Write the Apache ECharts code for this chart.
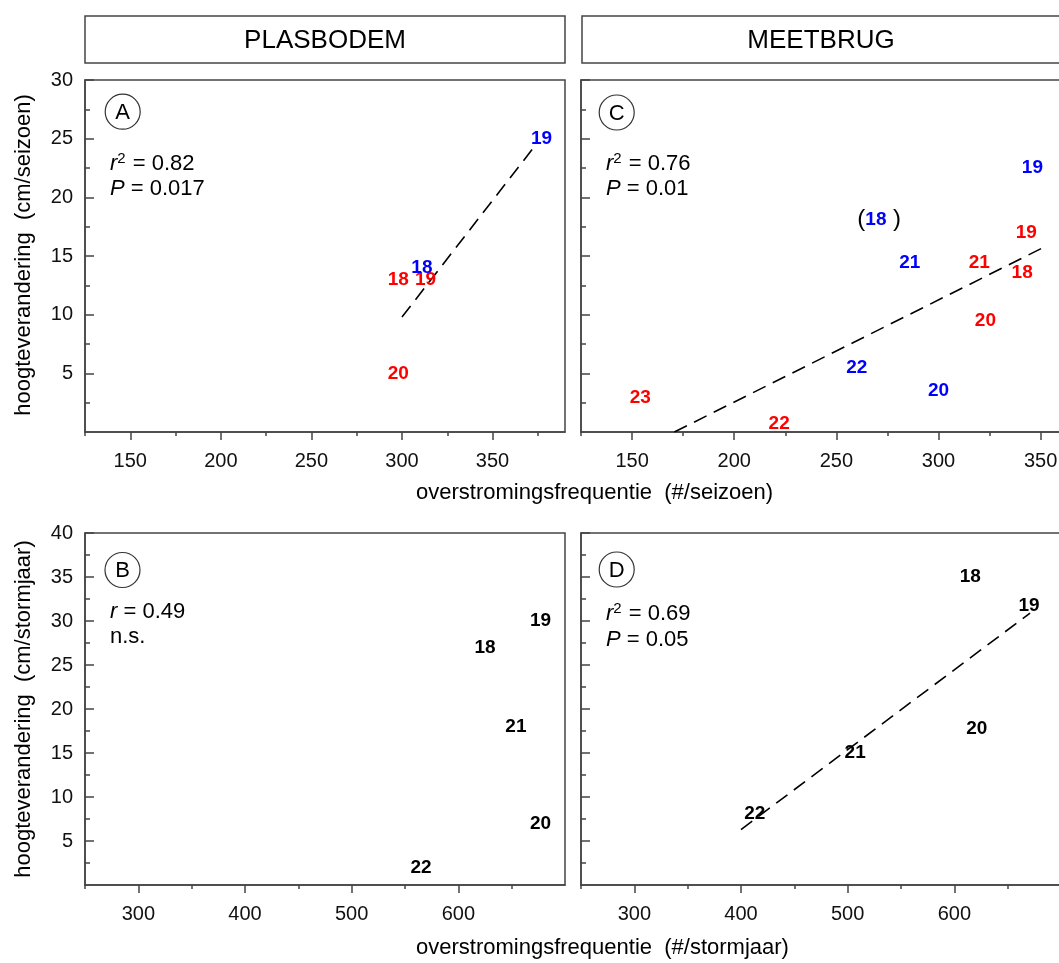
<!DOCTYPE html>
<html><head><meta charset="utf-8">
<script src="https://cdn.jsdelivr.net/npm/echarts@6/dist/echarts.min.js"></script>
<style>html,body{margin:0;padding:0;background:#fff}#c{width:1059px;height:963px}</style>
</head><body><div id="c"></div>
<script>
// ---------- DATA ----------
// Panel A: PLASBODEM, per seizoen
const aRedLbl = ['18', '19', '20'];
const aRedX = [298, 313, 298];
const aRedY = [13, 13, 5];
const aBlueLbl = ['18', '19'];
const aBlueX = [311, 377];
const aBlueY = [14, 25];
const aFitX = [300, 375];
const aFitY = [9.8, 24.7];

// Panel C: MEETBRUG, per seizoen
const cRedLbl = ['19', '21', '18', '20', '23', '22'];
const cRedX = [343, 320, 341, 323, 154, 222];
const cRedY = [17, 14.4, 13.6, 9.5, 2.9, 0.7];
const cBlueLbl = ['(18)', '19', '21', '22', '20'];
const cBlueX = [271, 346, 286, 260, 300];
const cBlueY = [18.1, 22.5, 14.4, 5.5, 3.5];
const cFitX = [170.7, 350.5];
const cFitY = [0, 15.65];

// Panel B: PLASBODEM, per stormjaar
const bLbl = ['19', '18', '21', '20', '22'];
const bX = [677, 625, 654, 677, 565];
const bY = [30, 27, 18, 7, 2];

// Panel D: MEETBRUG, per stormjaar
const dLbl = ['18', '19', '20', '21', '22'];
const dX = [615, 670, 621, 507, 413];
const dY = [35, 31.7, 17.7, 15, 8.1];
const dFitX = [400, 671];
const dFitY = [6.3, 30.9];

// Tick values
const xTicksTop = [150, 200, 250, 300, 350];
const xMinorTop = [125, 175, 225, 275, 325, 375];
const xTicksBottom = [300, 400, 500, 600];
const xMinorBottom = [250, 350, 450, 550, 650];
const yTicksTop = [5, 10, 15, 20, 25, 30];
const yMinorTop = [2.5, 7.5, 12.5, 17.5, 22.5, 27.5];
const yTicksBottom = [5, 10, 15, 20, 25, 30, 35, 40];
const yMinorBottom = [2.5, 7.5, 12.5, 17.5, 22.5, 27.5, 32.5, 37.5];

// ---------- STYLE / BUILD ----------
const FONT = '"Liberation Sans", Arial, sans-serif';
const AX = '#444';
const RED = '#ff0000', BLUE = '#0000ff', BLACK = '#000000';

function pts(xs, ys, ls) { return xs.map((x, i) => [x, ys[i], ls ? ls[i] : '']); }

function xMain(g, min, max, ticks) {
  return {type: 'value', gridIndex: g, position: 'bottom', min, max,
    axisLine: {show: true, onZero: false, lineStyle: {color: AX, width: 1.5}},
    axisTick: {show: true, customValues: ticks, length: 8, lineStyle: {color: AX, width: 1.5}},
    axisLabel: {show: true, customValues: ticks, fontSize: 20, color: '#111', fontFamily: FONT, margin: 19},
    splitLine: {show: false}};
}
function xMinor(g, min, max, ticks) {
  return {type: 'value', gridIndex: g, position: 'bottom', min, max,
    axisLine: {show: false, onZero: false},
    axisTick: {show: true, customValues: ticks, length: 4, lineStyle: {color: AX, width: 1.5}},
    axisLabel: {show: false}, splitLine: {show: false}};
}
function yMain(g, max, ticks, showLabels) {
  return {type: 'value', gridIndex: g, position: 'left', min: 0, max,
    axisLine: {show: true, onZero: false, lineStyle: {color: AX, width: 1.5}},
    axisTick: {show: true, inside: true, customValues: ticks, length: 9, lineStyle: {color: AX, width: 1.5}},
    axisLabel: {show: showLabels, customValues: ticks, fontSize: 20, color: '#111', fontFamily: FONT, margin: 12},
    splitLine: {show: false}};
}
function yMinor(g, max, ticks) {
  return {type: 'value', gridIndex: g, position: 'left', min: 0, max,
    axisLine: {show: false, onZero: false},
    axisTick: {show: true, inside: true, customValues: ticks, length: 5, lineStyle: {color: AX, width: 1.5}},
    axisLabel: {show: false}, splitLine: {show: false}};
}
function labelSeries(xi, yi, data, color) {
  return {type: 'scatter', xAxisIndex: xi, yAxisIndex: yi, data, symbolSize: 1,
    itemStyle: {color: 'rgba(0,0,0,0)', opacity: 1}, z: 5, silent: true,
    label: {show: true, position: 'inside', color, fontWeight: 'bold', fontSize: 19, fontFamily: FONT, opacity: 1,
      formatter: p => {
        const s = p.data[2];
        if (s.charAt(0) === '(') return '{p|(}{b|' + s.slice(1, -1) + '}{p| )}';
        return s;
      },
      rich: {p: {color: BLACK, fontSize: 24, fontFamily: FONT, fontWeight: 'normal'},
             b: {color, fontSize: 19, fontWeight: 'bold', fontFamily: FONT}}}};
}
function fitSeries(xi, yi, data) {
  return {type: 'line', xAxisIndex: xi, yAxisIndex: yi, data, symbol: 'none', z: 3, silent: true,
    lineStyle: {color: BLACK, width: 1.6, type: [14, 8], opacity: 1}};
}

const grids = [
  {left: 85, top: 80, width: 480, height: 352},
  {left: 581, top: 80, width: 480, height: 352},
  {left: 85, top: 533, width: 480, height: 352},
  {left: 581, top: 533, width: 480, height: 352}
].map(g => Object.assign(g, {show: true, borderColor: AX, borderWidth: 1.5, outerBoundsMode: 'none', containLabel: false}));

const xAxes = [
  xMain(0, 125, 390, xTicksTop), xMinor(0, 125, 390, xMinorTop),
  xMain(1, 125, 360, xTicksTop), xMinor(1, 125, 360, xMinorTop),
  xMain(2, 250, 700, xTicksBottom), xMinor(2, 250, 700, xMinorBottom),
  xMain(3, 250, 700, xTicksBottom), xMinor(3, 250, 700, xMinorBottom)
];
const yAxes = [
  yMain(0, 30, yTicksTop, true), yMinor(0, 30, yMinorTop),
  yMain(1, 30, yTicksTop, false), yMinor(1, 30, yMinorTop),
  yMain(2, 40, yTicksBottom, true), yMinor(2, 40, yMinorBottom),
  yMain(3, 40, yTicksBottom, false), yMinor(3, 40, yMinorBottom)
];

const series = [
  fitSeries(0, 0, pts(aFitX, aFitY)),
  labelSeries(0, 0, pts(aRedX, aRedY, aRedLbl), RED),
  labelSeries(0, 0, pts(aBlueX, aBlueY, aBlueLbl), BLUE),
  fitSeries(2, 2, pts(cFitX, cFitY)),
  labelSeries(2, 2, pts(cRedX, cRedY, cRedLbl), RED),
  labelSeries(2, 2, pts(cBlueX, cBlueY, cBlueLbl), BLUE),
  labelSeries(4, 4, pts(bX, bY, bLbl), BLACK),
  fitSeries(6, 6, pts(dFitX, dFitY)),
  labelSeries(6, 6, pts(dX, dY, dLbl), BLACK)
];

const txt = (x, y, text, size, extra) => ({type: 'text', x, y, silent: true,
  style: Object.assign({text, fontSize: size, fontFamily: FONT, fill: '#000', align: 'left', verticalAlign: 'middle'}, extra || {})});
const RICH = {
  i: {fontStyle: 'italic', fontSize: 22, fontFamily: FONT, lineHeight: 24, verticalAlign: 'bottom'},
  s: {fontSize: 15, fontFamily: FONT, verticalAlign: 'top', lineHeight: 24, padding: [0, 1, 0, 0]},
  n: {fontSize: 22, fontFamily: FONT, lineHeight: 24, verticalAlign: 'bottom'}
};
const statText = (x, y, s) => txt(x, y, s, 22, {rich: RICH});
const circ = (cx, cy, letter) => [
  {type: 'circle', silent: true, shape: {cx, cy, r: 17.5}, style: {fill: 'none', stroke: '#333', lineWidth: 1.2}},
  txt(cx, cy + 1, letter, 22, {align: 'center'})
];

const graphic = [
  {type: 'rect', silent: true, shape: {x: 85, y: 16, width: 480, height: 47}, style: {fill: 'none', stroke: AX, lineWidth: 1.5}},
  {type: 'rect', silent: true, shape: {x: 582, y: 16, width: 520, height: 47}, style: {fill: 'none', stroke: AX, lineWidth: 1.5}},
  txt(325, 41, 'PLASBODEM', 26, {align: 'center'}),
  txt(821, 41, 'MEETBRUG', 26, {align: 'center'}),
  ...circ(122.7, 111.7, 'A'), ...circ(616.7, 112.5, 'C'), ...circ(122.5, 570, 'B'), ...circ(616.7, 569.5, 'D'),
  statText(110, 163, '{i|r}{s|2}{n| = 0.82}'),
  statText(110, 188, '{i|P}{n| = 0.017}'),
  statText(606, 163, '{i|r}{s|2}{n| = 0.76}'),
  statText(606, 188, '{i|P}{n| = 0.01}'),
  statText(110, 611, '{i|r}{n| = 0.49}'),
  statText(110, 636, '{n|n.s.}'),
  statText(606, 613, '{i|r}{s|2}{n| = 0.69}'),
  statText(606, 639, '{i|P}{n| = 0.05}'),
  txt(416, 493, 'overstromingsfrequentie  (#/seizoen)', 22),
  txt(416, 948, 'overstromingsfrequentie  (#/stormjaar)', 22),
  txt(24, 255, 'hoogteverandering  (cm/seizoen)', 22, {align: 'center'}),
  txt(24, 709, 'hoogteverandering  (cm/stormjaar)', 22, {align: 'center'})
];
graphic[graphic.length - 2].rotation = Math.PI / 2;
graphic[graphic.length - 1].rotation = Math.PI / 2;

const chart = echarts.init(document.getElementById('c'), null, {renderer: 'canvas'});
chart.setOption({
  animation: false,
  backgroundColor: '#fff',
  grid: grids, xAxis: xAxes, yAxis: yAxes, series, graphic
});
</script></body></html>
